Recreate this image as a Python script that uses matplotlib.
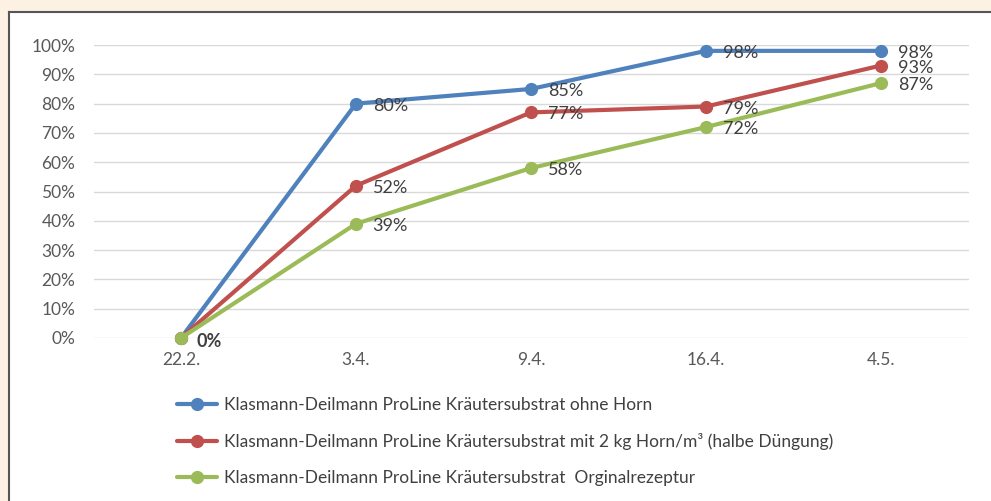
import matplotlib.pyplot as plt
from matplotlib.lines import Line2D

plt.rcParams['font.family'] = ['Lato', 'DejaVu Sans']

# Daten
dates = ['22.2.', '3.4.', '9.4.', '16.4.', '4.5.']
ohne_horn = [0, 80, 85, 98, 98]
mit_horn = [0, 52, 77, 79, 93]
original = [0, 39, 58, 72, 87]

labels = [
    'Klasmann-Deilmann ProLine Kräutersubstrat ohne Horn',
    'Klasmann-Deilmann ProLine Kräutersubstrat mit 2 kg Horn/m³ (halbe Düngung)',
    'Klasmann-Deilmann ProLine Kräutersubstrat  Orginalrezeptur',
]
colors = ['#4F81BD', '#C0504D', '#9BBB59']
series = [ohne_horn, mit_horn, original]

W, H = 991, 501
fig = plt.figure(figsize=(W / 100, H / 100), dpi=100)
fig.patch.set_facecolor('#FDF1E4')

# weißer Rahmen für den Diagrammbereich
x0, y0 = 9 / W, 1 - 12 / H
fig.patches.append(plt.Rectangle((x0, 0), 1 - x0, y0, transform=fig.transFigure,
                                 facecolor='white', edgecolor='none', zorder=-5))
fig.lines.append(Line2D([x0, 1], [y0, y0], transform=fig.transFigure, color='#555555', lw=1.5, zorder=-4))
fig.lines.append(Line2D([x0, x0], [0, y0], transform=fig.transFigure, color='#555555', lw=1.5, zorder=-4))

ax = fig.add_axes([93.5 / W, 1 - 338 / H, 875 / W, (338 - 45) / H])
ax.set_facecolor('none')

x = list(range(len(dates)))
for vals, c, lab in zip(series, colors, labels):
    ax.plot(x, [v / 100 for v in vals], color=c, lw=3, marker='o', markersize=8.5,
            label=lab, solid_capstyle='round', zorder=3, clip_on=False)

# Datenbeschriftungen
for vals in series:
    for i, v in enumerate(vals):
        if v == 0:
            continue
        ax.annotate(f'{v}%', (i, v / 100), xytext=(12, -1.5), textcoords='offset points',
                    va='center', ha='left', fontsize=13, color='#404040', zorder=4)
ax.annotate('0%', (0, 0), xytext=(11, -2.5), textcoords='offset points',
            va='center', ha='left', fontsize=13, color='#404040', fontweight='bold', zorder=4)

ax.set_xlim(-0.5, len(dates) - 0.5)
ax.set_ylim(0, 1.0)
ax.set_yticks([i / 10 for i in range(11)])
ax.set_yticklabels([f'{i * 10}%' for i in range(11)])
ax.set_xticks(x)
ax.set_xticklabels(dates)
ax.yaxis.grid(True, color='#D9D9D9', lw=1)
ax.set_axisbelow(True)
for s in ax.spines.values():
    s.set_visible(False)
ax.tick_params(length=0, labelsize=12.5, colors='#595959', pad=13)
ax.tick_params(axis='x', pad=10)

ax.legend(loc='upper left', bbox_to_anchor=(177 / W, 1 - 397 / H), bbox_transform=fig.transFigure,
          frameon=False, fontsize=12.5, labelcolor='#404040', handlelength=2.3,
          handletextpad=0.4, labelspacing=1.15, borderaxespad=0, borderpad=0)

fig.savefig('out.png', dpi=100, facecolor=fig.get_facecolor())
